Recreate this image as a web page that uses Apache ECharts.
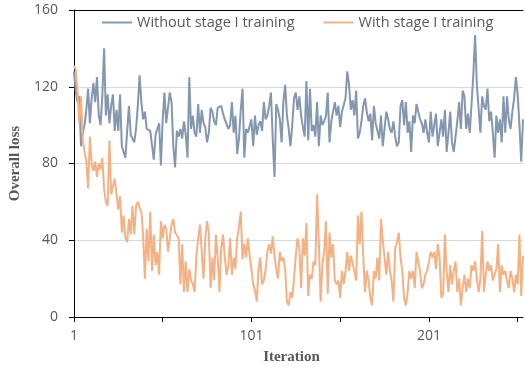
<!DOCTYPE html>
<html>
<head>
<meta charset="utf-8">
<script src="https://cdn.jsdelivr.net/npm/echarts@6/dist/echarts.min.js"></script>
<style>html,body{margin:0;padding:0;background:#fff;}#chart{width:525px;height:370px;}</style>
</head>
<body>
<div id="chart"></div>
<script>
// ---- data ----
const seriesNames = ['Without stage I training', 'With stage I training'];
const withoutStageI = [
128,118,112,115,89,96,100,108,119,101,114,122,112,125,105,100,115,140,105,116,
101,110,116,97,108,97,116,89,90,83,97,110,95,93,91,98,110,126,112,103,
107,98,99,97,
96,82,95,94,101,79,103,117,101,102,117,112,89,78,97,94,98,93,102,95,
83,125,98,105,96,94,111,96,108,101,99,91,96,109,107,102,100,109,108,110,
106,103,102,98,100,
112,96,105,85,93,108,119,83,98,96,97,103,89,105,95,100,102,97,112,103,
105,110,117,93,73,111,108,103,91,112,121,105,98,89,100,114,117,108,115,105,
99,
94,123,92,119,97,100,94,112,89,105,100,102,105,117,91,102,103,112,105,110,
99,107,107,114,128,121,108,113,105,118,93,96,102,110,114,107,102,106,92,110,
101,100,93,105,89,88,
107,103,98,96,102,94,89,91,110,113,100,112,96,102,86,105,101,111,112,103,
101,96,103,96,91,107,94,100,106,89,96,103,94,108,86,96,107,91,86,94,
102,112,98,118,115,98,
106,96,95,126,147,121,120,96,115,110,108,119,102,107,96,83,105,96,103,91,
115,96,115,103,98,107,114,125,116,100,81,103
];
const withStageI = [
131,129,118,101,115,92,86,81,67,94,80,76,81,73,80,77,83,67,60,58,
92,64,63,72,64,56,63,44,53,41,39,51,43,58,43,58,60,57,55,42,
20,46,29,55,
24,43,27,34,22,50,41,48,46,34,41,48,51,44,43,41,17,38,13,29,
13,25,19,17,13,32,41,48,34,20,41,50,44,15,31,19,43,31,13,36,
43,
31,22,27,41,22,31,25,41,47,55,30,38,31,41,32,25,17,14,8,25,
31,17,19,25,34,38,33,42,32,25,20,34,29,31,25,8,6,13,10,20,
32,41,36,15,
41,
32,49,11,22,20,29,27,64,38,8,27,34,50,12,44,31,38,19,17,19,
10,24,17,24,34,24,32,31,24,19,53,38,55,32,13,24,19,10,6,24,
20,31,19,51,
40,31,22,34,24,19,8,36,39,44,31,24,10,6,13,24,20,24,15,34,
29,24,15,17,22,24,29,34,31,34,25,38,31,10,12,43,24,13,27,17,
24,29,
13,20,6,15,22,13,20,15,27,24,29,20,13,20,45,13,22,29,24,27,
19,20,25,38,13,27,22,24,19,15,24,20,13,22,17,43,11,32
];
const iterations = withoutStageI.map((_, i) => String(i + 1));
const yTicks = { min: 0, max: 160, step: 40 };

// ---- chart ----
const chart = echarts.init(document.getElementById('chart'), null, { renderer: 'canvas' });
const labelFont = 'Open Sans';
const titleFont = '"Liberation Serif", "Times New Roman", serif';
chart.setOption({
  animation: false,
  backgroundColor: '#ffffff',
  grid: { left: 67, right: 2, top: 10, bottom: 52, containLabel: false },
  legend: {
    data: seriesNames,
    left: 102, top: 15, padding: 0,
    itemWidth: 30, itemHeight: 14, itemGap: 29,
    icon: 'path://M0,6 L30,6 L30,8 L0,8 Z',
    textStyle: { color: '#595959', fontSize: 14.5, fontFamily: labelFont }
  },
  xAxis: [{
    type: 'category', data: iterations, boundaryGap: false,
    axisLine: { show: true, lineStyle: { color: '#000', width: 1 } },
    axisTick: { show: true, interval: 49, length: 5, lineStyle: { color: '#000' } },
    axisLabel: { interval: 99, color: '#595959', fontSize: 14, fontFamily: labelFont, margin: 12 },
    splitLine: { show: false },
    name: 'Iteration', nameLocation: 'middle', nameGap: 33,
    nameTextStyle: { color: '#595959', fontSize: 15, fontWeight: 'bold', fontFamily: titleFont, padding: [0, 14, 0, 0] }
  }, {
    type: 'category', data: iterations, boundaryGap: false, position: 'top',
    axisLine: { show: true, lineStyle: { color: '#000', width: 1 } },
    axisTick: { show: false }, axisLabel: { show: false }, splitLine: { show: false }
  }],
  yAxis: {
    type: 'value', min: yTicks.min, max: yTicks.max, interval: yTicks.step,
    axisLine: { show: true, lineStyle: { color: '#000', width: 1 } },
    axisTick: { show: true, length: 5, lineStyle: { color: '#000' } },
    axisLabel: { color: '#595959', fontSize: 14, fontFamily: labelFont, margin: 16 },
    splitLine: { show: true, lineStyle: { color: '#d9d9d9', width: 1 } },
    name: 'Overall loss', nameLocation: 'middle', nameGap: 40, nameRotate: 90,
    nameTextStyle: { color: '#595959', fontSize: 15, fontWeight: 'bold', fontFamily: titleFont }
  },
  series: [{
    name: seriesNames[0], type: 'line', data: withoutStageI, xAxisIndex: 0,
    symbol: 'none', lineStyle: { color: '#8497B0', width: 2 }, itemStyle: { color: '#8497B0' }
  }, {
    name: seriesNames[1], type: 'line', data: withStageI, xAxisIndex: 0,
    symbol: 'none', lineStyle: { color: '#F4B183', width: 2 }, itemStyle: { color: '#F4B183' }
  }]
});
</script>
</body>
</html>
